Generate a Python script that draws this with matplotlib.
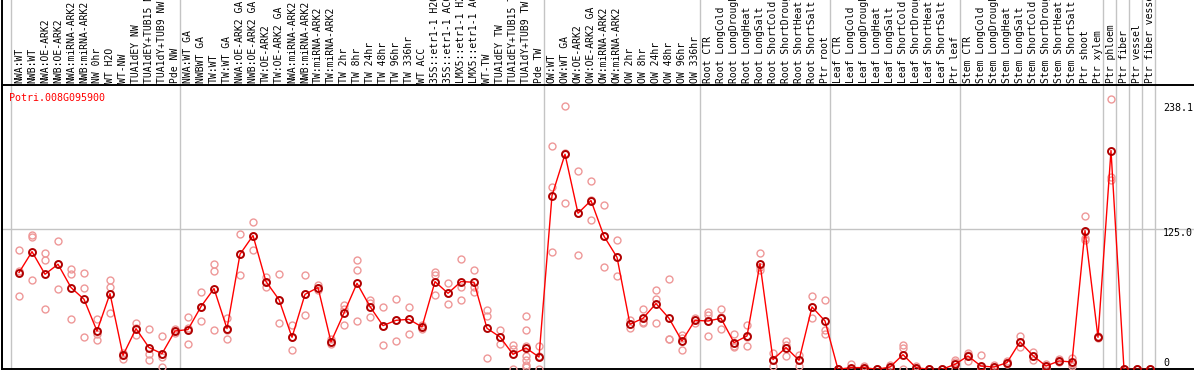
import numpy as np
import matplotlib
matplotlib.use("Agg")
import matplotlib.pyplot as plt

# sample groups (vertical separators between groups)
g_nw = ["NWA:WT", "NWB:WT", "NWA:OE-ARK2", "NWB:OE-ARK2", "NWA:miRNA-ARK2",
        "NWB:miRNA-ARK2", "NW 0hr", "WT H2O", "WT-NW", "TUA1dEY NW",
        "TUA1dEY+TUB15 NW", "TUA1dY+TUB9 NW", "Pde NW"]
g_tw = ["NWA:WT GA", "NWBWT GA", "TW:WT", "TW:WT GA", "NWA:OE-ARK2 GA",
        "NWB:OE-ARK2 GA", "TW:OE-ARK2", "TW:OE-ARK2 GA", "NWA:miRNA-ARK2",
        "NWB:miRNA-ARK2", "TW:miRNA-ARK2", "TW:miRNA-ARK2", "TW 2hr", "TW 8hr",
        "TW 24hr", "TW 48hr", "TW 96hr", "TW 336hr", "WT ACC",
        "35S::etr1-1 H2O", "35S::etr1-1 ACC", "LMX5::etr1-1 H2O",
        "LMX5::etr1-1 ACC", "WT-TW", "TUA1dEY TW", "TUA1dEY+TUB15 TW",
        "TUA1dY+TUB9 TW", "Pde TW"]
g_ow = ["OW:WT", "OW:WT GA", "OW:OE-ARK2", "OW:OE-ARK2 GA", "OW:miRNA-ARK2",
        "OW:miRNA-ARK2", "OW 2hr", "OW 8hr", "OW 24hr", "OW 48hr", "OW 96hr",
        "OW 336hr"]
g_root = ["Root CTR", "Root LongCold", "Root LongDrought", "Root LongHeat",
          "Root LongSalt", "Root ShortCold", "Root ShortDrought",
          "Root ShortHeat", "Root ShortSalt", "Ptr root"]
g_leaf = ["Leaf CTR", "Leaf LongCold", "Leaf LongDrought", "Leaf LongHeat",
          "Leaf LongSalt", "Leaf ShortCold", "Leaf ShortDrought",
          "Leaf ShortHeat", "Leaf ShortSalt", "Ptr leaf"]
g_stem = ["Stem CTR", "Stem LongCold", "Stem LongDrought", "Stem LongHeat",
          "Stem LongSalt", "Stem ShortCold", "Stem ShortDrought",
          "Stem ShortHeat", "Stem ShortSalt", "Ptr shoot", "Ptr xylem"]
g_phloem = ["Ptr phloem"]
g_fiber = ["Ptr fiber"]
g_vessel = ["Ptr vessel"]
g_fv = ["Ptr fiber vessel"]
groups = [g_nw, g_tw, g_ow, g_root, g_leaf, g_stem, g_phloem, g_fiber, g_vessel, g_fv]
labels = [s for g in groups for s in g]

# mean expression
means = [85.9, 104.5, 84.4, 93.3, 72.6, 62.2, 34.0, 67.2, 12.4, 36.1, 19.3, 13.9, 34.0,
         35.3, 55.7, 71.7, 36.1, 102.2, 118.8, 77.9, 61.9, 28.4, 66.6, 72.6, 24.3, 50.0,
         76.4, 55.7, 38.8, 43.5, 44.4, 37.6, 77.9, 67.5, 77.9, 77.3, 36.4, 28.7, 13.3,
         18.9, 10.9,
         154.3, 191.0, 138.6, 149.9, 118.2, 99.5, 40.0, 45.3, 58.4, 45.3, 25.1, 43.5,
         42.9, 45.3, 23.7, 29.6, 93.9, 8.6, 19.3, 8.0, 55.4, 42.9,
         0, 1.5, 1.5, 0, 2.0, 13.0, 1.5, 0, 0, 4.4,
         11.8, 2.9, 2.0, 5.9, 24.3, 12.1, 2.9, 7.4, 6.5, 123.2, 28.4,
         194.3, 0, 0, 0]

# replicate values
reps = [[106.3, 87, 64.8], [119, 117.6, 79], [103, 96.8, 53.3], [114.3, 93.3, 71.7],
        [89.1, 84.4, 44.7], [85.9, 72.6, 28.4], [45, 31.7, 25.8], [79, 73.1, 50],
        [14.5, 13, 9.5], [41, 36.5, 30.5], [36.1, 13.9, 8], [29.6, 14, 10.9, 2],
        [35.5, 34, 32.5],
        [46.5, 36.5, 22.8], [69, 55.5, 42.6], [93.3, 87.1, 34.6], [45.9, 35, 27.3],
        [120.5, 102.5, 83.5], [131.2, 118.8, 106.3], [82, 77.9, 73.1], [84.4, 61.9, 40.9],
        [39.1, 28.4, 17.5], [83.5, 66.6, 48.6], [74.5, 72.6, 70.7], [27.3, 24.3, 22.8],
        [56.9, 53.4, 39.7], [97.4, 88.6, 42.6], [61.3, 59, 46.5], [55.7, 38.8, 21.9],
        [62.8, 43.5, 24.9], [55.7, 44.4, 31.7], [39, 37.6, 36], [86.4, 83.5, 65.7],
        [76.4, 67.5, 57.7], [98.3, 73.1, 61.9], [88.6, 73.1, 69], [52.4, 47.1, 10.4],
        [34.6, 28.7, 22.8], [21.3, 18.4, 0], [47.7, 35.3, 21, 12, 8, 4, 2], [21, 11.7, 0],
        [198.1, 162, 104.5], [233.7, 191.8, 147.5], [175.9, 138.6, 101.3],
        [167, 150, 133], [146.3, 118.2, 90.6], [115.2, 99.5, 82.6], [43.5, 40, 37],
        [53.3, 42, 41.1], [70.8, 62.2, 41.5], [80.6, 27.3, 27.3], [30.2, 27.5, 17.5],
        [45.9, 43.5, 41],
        [50.9, 48, 29.6], [53.3, 46.5, 36.1], [31.1, 20.5, 19.8], [39.1, 29, 20.7],
        [103, 90.9, 88], [14.5, 8.6, 3.3], [25.1, 21.6, 11.5], [12.4, 8, 3.3],
        [64.8, 55.4, 45.9], [61.9, 34.6, 31.1],
        [0, 0, 0], [4.4, 0.5, 0], [3.3, 1.5, 0], [0, 0, 0], [3.5, 2, 0.5],
        [21.3, 18.9, 0], [3, 1.5, 0], [0, 0, 0], [0, 0, 0], [8.6, 6.5, 0],
        [14.5, 13, 7.1], [12.4, 0.9, 0], [3.5, 2, 0.5], [7.5, 5.9, 4.4],
        [29.6, 24.3, 19.8], [15.1, 12.1, 8], [5, 2.9, 1], [9, 7.4, 6.5],
        [10, 4.4, 3.3], [136.5, 116.7, 114.6], [29.3, 27.5, 28.4],
        [240.5, 170.8, 168.5], [0, 0, 0], [0, 0, 0], [0, 0, 0]]

gene = "Potri.008G095900"
yticks = [238.1, 125.0, 0]

W, H = 1194, 370
fig = plt.figure(figsize=(W / 100, H / 100), dpi=100)
ax_top, ax_bot = 85, 369.3
ax = fig.add_axes([2 / W, (H - ax_bot) / H, (W - 2) / W, (ax_bot - ax_top) / H])

x = np.arange(len(labels))
mono = "DejaVu Sans Mono"
grey = "#c4c4c4"

# replicates
for i, r in enumerate(reps):
    ax.plot([i] * len(r), r, "o", ms=5, mfc="none", mec="#ee9898", mew=1.0,
            clip_on=True, zorder=3)

ax.plot(x, means, "-", color="#ff0000", lw=1.0, zorder=4)
ax.plot(x, means, "o", ms=5, mfc="none", mec="#b00000", mew=1.4, zorder=5)

ax.set_xlim(-1.308, 90.385)
ax.set_ylim(0, 252.5)

# group separators extend up into label area
ext = ax_bot / (ax_bot - ax_top)
b = -0.5
bounds = [b]
for g in groups:
    b += len(g)
    bounds.append(b)
for bx in bounds:
    ax.axvline(bx - 0.08, ymin=0, ymax=ext, color=grey, lw=1.0, clip_on=False, zorder=1)
ax.axvline(-1.308, ymin=0, ymax=ext, color="black", lw=1.4, clip_on=False, zorder=6)
ax.axhline(125.0, color=grey, lw=1.0, zorder=1)

ax.spines["right"].set_visible(False)
for s in ["top", "bottom", "left"]:
    ax.spines[s].set_linewidth(1.4)
ax.set_xticks([])
ax.set_yticks([])

# sample labels
trans = matplotlib.transforms.blended_transform_factory(ax.transData, ax.transAxes)
for i, lab in enumerate(labels):
    ax.text(i, 1.007, lab, rotation=90, ha="center", va="bottom", transform=trans,
            family=mono, fontsize=7.0, clip_on=False)

ax.text(-0.78, 0.955, gene, color="#ff0000", family=mono, fontsize=7.2,
        transform=trans, ha="left", va="center")

ylab_pos = [232.1, 121.4, 6.0]
for v, yp in zip(yticks, ylab_pos):
    txt = "0" if v == 0 else f"{v:.1f}"
    ax.text(88.0, yp, txt, family=mono, fontsize=7.2, ha="left", va="center",
            clip_on=False)

fig.savefig("out.png", dpi=100)
